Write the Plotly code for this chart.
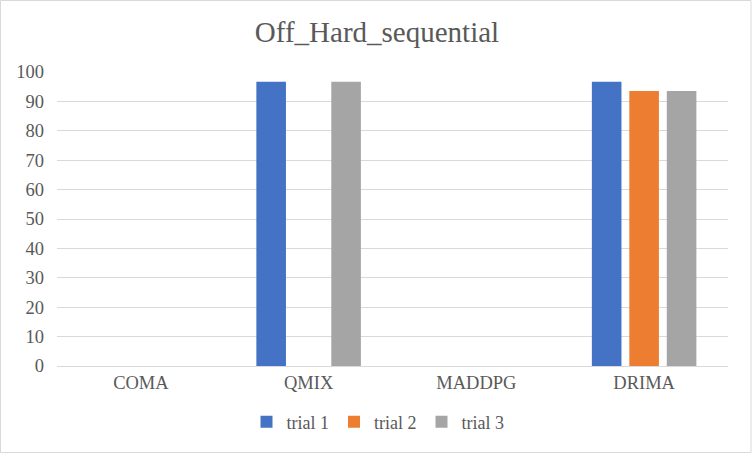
import plotly.graph_objects as go

categories = ["COMA", "QMIX", "MADDPG", "DRIMA"]
series_names = ["trial 1", "trial 2", "trial 3"]
trial1 = [0, 96.7, 0, 96.7]
trial2 = [0, 0, 0, 93.5]
trial3 = [0, 96.7, 0, 93.5]
colors = ["#4472C4", "#ED7D31", "#A5A5A5"]
y_ticks = list(range(0, 101, 10))

FONT = "Liberation Serif, Times New Roman, serif"

fig = go.Figure()
for name, vals, c in zip(series_names, [trial1, trial2, trial3], colors):
    fig.add_trace(go.Bar(name=name, x=categories, y=vals, marker=dict(color=c, line=dict(width=0))))

W, H = 754, 454
L, R, T, B = 57, 26, 72, 88
pw, ph = W - L - R, H - T - B

fig.update_layout(
    width=W, height=H,
    margin=dict(l=L, r=R, t=T, b=B),
    paper_bgcolor="white", plot_bgcolor="white",
    font=dict(family=FONT, color="#595959", size=18),
    title=dict(text="Off_Hard_sequential", x=0.5, xanchor="center", y=1 - 32 / H, yanchor="middle",
               font=dict(family=FONT, size=29, color="#595959")),
    barmode="group", bargap=0.33, bargroupgap=0.21,
    showlegend=True,
    legend=dict(orientation="h", x=(378 - L) / pw, xanchor="center", y=-(422 - (T + ph)) / ph, yanchor="middle",
                font=dict(family=FONT, size=18, color="#595959"), itemwidth=30, traceorder="normal"),
    xaxis=dict(showgrid=False, showline=True, linecolor="#d9d9d9", ticks="",
               tickfont=dict(family=FONT, size=18.5)),
    yaxis=dict(range=[0, 100], tickvals=y_ticks, showgrid=True, gridcolor="#d9d9d9", gridwidth=1,
               zeroline=False, showline=False, ticks="", tickfont=dict(family=FONT, size=18.5),
               ticklabelstandoff=12),
    shapes=[dict(type="rect", xref="paper", yref="paper",
                 x0=-(L - 0.5) / pw, x1=(751 - L) / pw,
                 y0=-(B - 1.5) / ph, y1=(H - 0.5 - B) / ph,
                 line=dict(color="#d9d9d9", width=1), layer="below")],
)

fig.write_html("out.html", config={"displayModeBar": False},
               post_script="document.body.style.margin='0';document.body.style.overflow='hidden';")
